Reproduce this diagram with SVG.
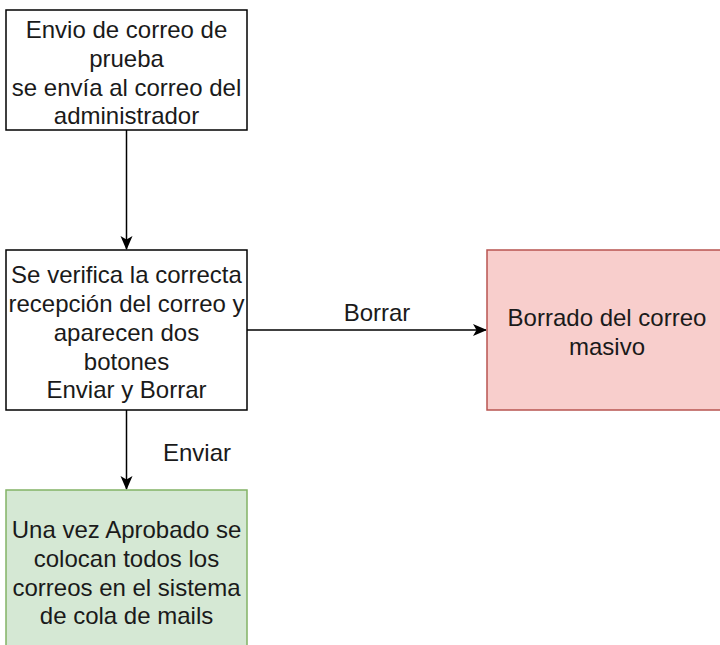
<svg xmlns="http://www.w3.org/2000/svg" width="720" height="645" viewBox="0 0 720 645">
<style>
.box{stroke-width:1.5}
.plain{fill:#ffffff;stroke:#000000}
.red{fill:#f8cecc;stroke:#b85450}
.green{fill:#d5e8d4;stroke:#82b366}
text{font-family:"Liberation Sans",Arial,sans-serif;font-size:24px;fill:#1a1a1a;text-anchor:middle}
.edge{stroke:#000000;stroke-width:1.5;fill:none}
</style>
<defs>
<marker id="arr" viewBox="0 0 14 14" refX="13" refY="7" markerWidth="14" markerHeight="14" markerUnits="userSpaceOnUse" orient="auto">
<path d="M0,1 L14,7 L0,13 L3.5,7 Z" fill="#000000"/>
</marker>
</defs>
<rect width="720" height="645" fill="#ffffff"/>
<g id="connectors">
<path class="edge" d="M126.5,130 L126.5,249" marker-end="url(#arr)"/>
<path class="edge" d="M126.5,410 L126.5,489" marker-end="url(#arr)"/>
<path class="edge" d="M247,330 L486,330" marker-end="url(#arr)"/>
<text x="377" y="321">Borrar</text>
<text x="197" y="461">Enviar</text>
</g>
<g id="node-prueba">
<rect class="box plain" x="6" y="10" width="241" height="120"/>
<text x="126.5" y="38">Envio de correo de</text>
<text x="126.5" y="67">prueba</text>
<text x="126.5" y="96">se envía al correo del</text>
<text x="126.5" y="124">administrador</text>
</g>
<g id="node-verifica">
<rect class="box plain" x="6" y="250" width="241" height="160"/>
<text x="126.5" y="283">Se verifica la correcta</text>
<text x="126.5" y="312">recepción del correo y</text>
<text x="126.5" y="341">aparecen dos</text>
<text x="126.5" y="370">botones</text>
<text x="126.5" y="398">Enviar y Borrar</text>
</g>
<g id="node-borrado">
<rect class="box red" x="487" y="250" width="240" height="160"/>
<text x="607" y="326">Borrado del correo</text>
<text x="607" y="355">masivo</text>
</g>
<g id="node-aprobado">
<rect class="box green" x="6" y="490" width="241" height="170"/>
<text x="126.5" y="538">Una vez Aprobado se</text>
<text x="126.5" y="567">colocan todos los</text>
<text x="126.5" y="596">correos en el sistema</text>
<text x="126.5" y="624">de cola de mails</text>
</g>
</svg>
